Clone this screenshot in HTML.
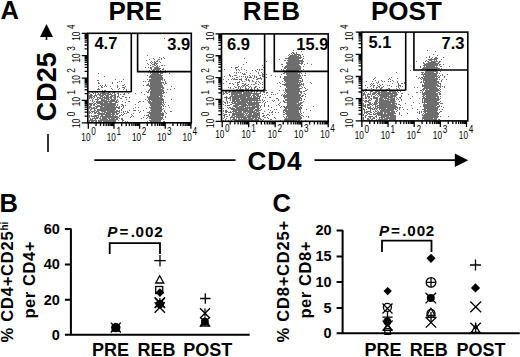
<!DOCTYPE html>
<html><head><meta charset="utf-8"><style>
html,body{margin:0;padding:0;background:#fff;overflow:hidden}
svg{display:block}
text{font-family:"Liberation Sans", sans-serif}
</style></head><body>
<svg width="520" height="357" viewBox="0 0 520 357" font-family='&quot;Liberation Sans&quot;, sans-serif'>
<rect width="520" height="357" fill="#fff"/>
<path fill="#6e6e6e" d="M164 38h1v1h-1zM147 55h1v1h-1zM159 57h1v1h-1zM163 57h1v1h-1zM153 58h1v1h-1zM161 58h1v1h-1zM164 58h1v1h-1zM149 59h1v1h-1zM154 59h1v1h-1zM158 59h2v1h-2zM161 59h1v1h-1zM146 60h1v1h-1zM157 60h1v1h-1zM151 61h1v1h-1zM154 61h1v1h-1zM156 61h2v1h-2zM159 61h1v1h-1zM150 62h1v1h-1zM152 62h1v1h-1zM154 62h2v1h-2zM160 62h1v1h-1zM147 63h1v1h-1zM151 63h1v1h-1zM154 63h4v1h-4zM148 64h1v1h-1zM152 64h3v1h-3zM156 64h1v1h-1zM150 65h1v1h-1zM154 65h2v1h-2zM157 65h1v1h-1zM161 65h2v1h-2zM164 65h1v1h-1zM152 66h2v1h-2zM156 66h2v1h-2zM159 66h1v1h-1zM145 67h1v1h-1zM148 67h1v1h-1zM150 67h2v1h-2zM154 67h5v1h-5zM150 68h2v1h-2zM154 68h7v1h-7zM163 68h1v1h-1zM151 69h1v1h-1zM153 69h7v1h-7zM162 69h2v1h-2zM149 70h1v1h-1zM152 70h3v1h-3zM156 70h3v1h-3zM160 70h1v1h-1zM165 70h1v1h-1zM151 71h10v1h-10zM163 71h2v1h-2zM148 72h1v1h-1zM150 72h14v1h-14zM165 72h1v1h-1zM98 73h1v1h-1zM150 73h1v1h-1zM152 73h7v1h-7zM160 73h3v1h-3zM169 73h1v1h-1zM151 74h10v1h-10zM147 75h1v1h-1zM150 75h13v1h-13zM104 76h1v1h-1zM149 76h13v1h-13zM149 77h14v1h-14zM151 78h12v1h-12zM115 79h1v1h-1zM123 79h1v1h-1zM147 79h1v1h-1zM149 79h14v1h-14zM164 79h1v1h-1zM97 80h2v1h-2zM149 80h12v1h-12zM162 80h1v1h-1zM164 80h1v1h-1zM119 81h1v1h-1zM121 81h1v1h-1zM143 81h1v1h-1zM145 81h1v1h-1zM148 81h13v1h-13zM165 81h1v1h-1zM98 82h1v1h-1zM112 82h1v1h-1zM117 82h1v1h-1zM150 82h14v1h-14zM165 82h1v1h-1zM98 83h2v1h-2zM112 83h1v1h-1zM148 83h1v1h-1zM150 83h12v1h-12zM163 83h1v1h-1zM165 83h2v1h-2zM105 84h1v1h-1zM124 84h1v1h-1zM147 84h2v1h-2zM150 84h12v1h-12zM164 84h1v1h-1zM100 85h1v1h-1zM102 85h1v1h-1zM105 85h1v1h-1zM117 85h1v1h-1zM122 85h2v1h-2zM143 85h1v1h-1zM146 85h17v1h-17zM98 86h1v1h-1zM101 86h1v1h-1zM104 86h1v1h-1zM106 86h1v1h-1zM110 86h1v1h-1zM117 86h1v1h-1zM125 86h1v1h-1zM149 86h14v1h-14zM171 86h1v1h-1zM101 87h2v1h-2zM117 87h1v1h-1zM122 87h3v1h-3zM150 87h14v1h-14zM98 88h1v1h-1zM111 88h1v1h-1zM119 88h1v1h-1zM124 88h1v1h-1zM150 88h11v1h-11zM162 88h2v1h-2zM174 88h1v1h-1zM97 89h3v1h-3zM112 89h1v1h-1zM118 89h1v1h-1zM123 89h1v1h-1zM126 89h1v1h-1zM149 89h14v1h-14zM167 89h1v1h-1zM170 89h1v1h-1zM102 90h1v1h-1zM104 90h2v1h-2zM126 90h1v1h-1zM148 90h2v1h-2zM151 90h13v1h-13zM90 91h1v1h-1zM94 91h1v1h-1zM98 91h1v1h-1zM100 91h1v1h-1zM104 91h2v1h-2zM109 91h1v1h-1zM117 91h1v1h-1zM127 91h1v1h-1zM131 91h1v1h-1zM146 91h1v1h-1zM148 91h1v1h-1zM150 91h14v1h-14zM92 92h1v1h-1zM95 92h1v1h-1zM97 92h1v1h-1zM102 92h3v1h-3zM108 92h2v1h-2zM113 92h2v1h-2zM141 92h1v1h-1zM147 92h2v1h-2zM150 92h12v1h-12zM163 92h2v1h-2zM166 92h1v1h-1zM89 93h1v1h-1zM93 93h1v1h-1zM95 93h1v1h-1zM98 93h1v1h-1zM100 93h9v1h-9zM110 93h1v1h-1zM112 93h1v1h-1zM114 93h1v1h-1zM117 93h2v1h-2zM124 93h1v1h-1zM128 93h1v1h-1zM135 93h1v1h-1zM150 93h14v1h-14zM90 94h2v1h-2zM95 94h1v1h-1zM97 94h4v1h-4zM102 94h4v1h-4zM107 94h5v1h-5zM114 94h2v1h-2zM118 94h1v1h-1zM120 94h1v1h-1zM123 94h2v1h-2zM144 94h1v1h-1zM150 94h12v1h-12zM89 95h4v1h-4zM94 95h3v1h-3zM99 95h5v1h-5zM105 95h4v1h-4zM111 95h5v1h-5zM118 95h1v1h-1zM150 95h13v1h-13zM89 96h3v1h-3zM93 96h2v1h-2zM96 96h1v1h-1zM100 96h3v1h-3zM104 96h1v1h-1zM106 96h3v1h-3zM110 96h3v1h-3zM114 96h2v1h-2zM117 96h2v1h-2zM122 96h2v1h-2zM147 96h1v1h-1zM149 96h10v1h-10zM160 96h3v1h-3zM164 96h1v1h-1zM89 97h4v1h-4zM94 97h1v1h-1zM97 97h4v1h-4zM102 97h10v1h-10zM113 97h3v1h-3zM117 97h1v1h-1zM119 97h1v1h-1zM125 97h2v1h-2zM129 97h1v1h-1zM147 97h15v1h-15zM89 98h1v1h-1zM91 98h1v1h-1zM93 98h1v1h-1zM97 98h1v1h-1zM99 98h4v1h-4zM104 98h5v1h-5zM110 98h2v1h-2zM114 98h2v1h-2zM120 98h2v1h-2zM148 98h15v1h-15zM92 99h1v1h-1zM95 99h4v1h-4zM101 99h4v1h-4zM106 99h4v1h-4zM111 99h5v1h-5zM117 99h1v1h-1zM126 99h1v1h-1zM145 99h1v1h-1zM148 99h16v1h-16zM171 99h1v1h-1zM90 100h1v1h-1zM92 100h1v1h-1zM97 100h1v1h-1zM101 100h6v1h-6zM108 100h1v1h-1zM110 100h5v1h-5zM116 100h2v1h-2zM147 100h1v1h-1zM149 100h1v1h-1zM151 100h13v1h-13zM92 101h1v1h-1zM94 101h1v1h-1zM96 101h21v1h-21zM118 101h1v1h-1zM122 101h1v1h-1zM128 101h2v1h-2zM139 101h2v1h-2zM143 101h1v1h-1zM148 101h3v1h-3zM152 101h10v1h-10zM163 101h1v1h-1zM93 102h1v1h-1zM96 102h7v1h-7zM104 102h4v1h-4zM109 102h3v1h-3zM115 102h3v1h-3zM125 102h1v1h-1zM138 102h1v1h-1zM148 102h16v1h-16zM165 102h1v1h-1zM89 103h4v1h-4zM94 103h2v1h-2zM97 103h19v1h-19zM149 103h13v1h-13zM163 103h1v1h-1zM89 104h3v1h-3zM93 104h2v1h-2zM96 104h1v1h-1zM100 104h16v1h-16zM117 104h1v1h-1zM121 104h2v1h-2zM135 104h1v1h-1zM150 104h13v1h-13zM164 104h1v1h-1zM90 105h2v1h-2zM93 105h2v1h-2zM97 105h3v1h-3zM101 105h15v1h-15zM117 105h1v1h-1zM122 105h2v1h-2zM125 105h1v1h-1zM150 105h11v1h-11zM162 105h2v1h-2zM168 105h1v1h-1zM89 106h2v1h-2zM95 106h8v1h-8zM104 106h11v1h-11zM116 106h1v1h-1zM119 106h1v1h-1zM121 106h1v1h-1zM123 106h1v1h-1zM151 106h11v1h-11zM163 106h1v1h-1zM165 106h1v1h-1zM89 107h3v1h-3zM93 107h2v1h-2zM96 107h2v1h-2zM100 107h20v1h-20zM123 107h1v1h-1zM135 107h1v1h-1zM138 107h1v1h-1zM149 107h13v1h-13zM169 107h1v1h-1zM89 108h1v1h-1zM91 108h6v1h-6zM100 108h16v1h-16zM118 108h2v1h-2zM122 108h1v1h-1zM133 108h1v1h-1zM146 108h1v1h-1zM150 108h12v1h-12zM163 108h1v1h-1zM90 109h2v1h-2zM94 109h1v1h-1zM97 109h19v1h-19zM121 109h1v1h-1zM151 109h12v1h-12zM90 110h1v1h-1zM94 110h2v1h-2zM97 110h18v1h-18zM116 110h2v1h-2zM119 110h1v1h-1zM121 110h1v1h-1zM129 110h1v1h-1zM133 110h3v1h-3zM138 110h1v1h-1zM143 110h1v1h-1zM150 110h12v1h-12zM164 110h1v1h-1zM89 111h1v1h-1zM91 111h4v1h-4zM96 111h3v1h-3zM101 111h5v1h-5zM107 111h13v1h-13zM123 111h1v1h-1zM125 111h1v1h-1zM127 111h1v1h-1zM140 111h1v1h-1zM149 111h1v1h-1zM151 111h11v1h-11zM164 111h1v1h-1zM170 111h2v1h-2zM89 112h2v1h-2zM92 112h1v1h-1zM94 112h3v1h-3zM98 112h2v1h-2zM102 112h1v1h-1zM104 112h13v1h-13zM119 112h1v1h-1zM121 112h1v1h-1zM123 112h1v1h-1zM127 112h2v1h-2zM139 112h1v1h-1zM147 112h14v1h-14zM162 112h1v1h-1zM165 112h1v1h-1zM89 113h1v1h-1zM91 113h1v1h-1zM94 113h2v1h-2zM97 113h8v1h-8zM106 113h5v1h-5zM112 113h3v1h-3zM116 113h3v1h-3zM124 113h1v1h-1zM126 113h1v1h-1zM133 113h1v1h-1zM149 113h15v1h-15zM166 113h1v1h-1zM98 114h17v1h-17zM116 114h2v1h-2zM121 114h1v1h-1zM123 114h1v1h-1zM131 114h1v1h-1zM148 114h1v1h-1zM150 114h14v1h-14zM89 115h1v1h-1zM91 115h1v1h-1zM94 115h5v1h-5zM101 115h2v1h-2zM105 115h6v1h-6zM112 115h2v1h-2zM115 115h1v1h-1zM119 115h2v1h-2zM122 115h1v1h-1zM132 115h1v1h-1zM144 115h1v1h-1zM146 115h3v1h-3zM150 115h14v1h-14zM89 116h1v1h-1zM91 116h6v1h-6zM98 116h1v1h-1zM100 116h18v1h-18zM119 116h1v1h-1zM131 116h1v1h-1zM133 116h1v1h-1zM148 116h13v1h-13zM162 116h1v1h-1zM165 116h1v1h-1zM89 117h1v1h-1zM94 117h1v1h-1zM96 117h3v1h-3zM100 117h1v1h-1zM102 117h17v1h-17zM130 117h1v1h-1zM143 117h1v1h-1zM147 117h1v1h-1zM149 117h14v1h-14zM165 117h1v1h-1zM90 118h1v1h-1zM92 118h6v1h-6zM99 118h2v1h-2zM102 118h5v1h-5zM108 118h2v1h-2zM111 118h4v1h-4zM116 118h2v1h-2zM119 118h1v1h-1zM121 118h2v1h-2zM141 118h1v1h-1zM146 118h1v1h-1zM149 118h14v1h-14zM90 119h3v1h-3zM95 119h1v1h-1zM100 119h8v1h-8zM109 119h9v1h-9zM121 119h2v1h-2zM151 119h11v1h-11zM163 119h1v1h-1zM89 120h8v1h-8zM98 120h18v1h-18zM118 120h1v1h-1zM122 120h2v1h-2zM149 120h12v1h-12zM89 121h1v1h-1zM91 121h3v1h-3zM95 121h2v1h-2zM98 121h4v1h-4zM103 121h13v1h-13zM122 121h1v1h-1zM125 121h1v1h-1zM127 121h1v1h-1zM147 121h1v1h-1zM150 121h11v1h-11zM163 121h2v1h-2z"/>
<path fill="#6e6e6e" d="M293 50h1v1h-1zM301 51h1v1h-1zM292 52h2v1h-2zM296 52h1v1h-1zM291 53h1v1h-1zM293 53h2v1h-2zM296 53h1v1h-1zM289 54h1v1h-1zM292 54h1v1h-1zM294 54h6v1h-6zM302 54h1v1h-1zM288 55h1v1h-1zM290 55h7v1h-7zM298 55h3v1h-3zM289 56h10v1h-10zM300 56h1v1h-1zM303 56h1v1h-1zM288 57h14v1h-14zM244 58h1v1h-1zM285 58h16v1h-16zM303 58h1v1h-1zM279 59h1v1h-1zM288 59h11v1h-11zM302 59h1v1h-1zM284 60h2v1h-2zM287 60h16v1h-16zM266 61h1v1h-1zM288 61h16v1h-16zM246 62h1v1h-1zM286 62h14v1h-14zM301 62h2v1h-2zM286 63h17v1h-17zM307 63h1v1h-1zM243 64h1v1h-1zM281 64h2v1h-2zM287 64h12v1h-12zM301 64h1v1h-1zM304 64h1v1h-1zM311 64h1v1h-1zM262 65h1v1h-1zM286 65h14v1h-14zM238 66h1v1h-1zM282 66h1v1h-1zM285 66h16v1h-16zM303 66h1v1h-1zM231 67h1v1h-1zM235 67h3v1h-3zM241 67h1v1h-1zM263 67h1v1h-1zM284 67h17v1h-17zM235 68h1v1h-1zM284 68h2v1h-2zM287 68h14v1h-14zM224 69h1v1h-1zM236 69h1v1h-1zM238 69h1v1h-1zM241 69h1v1h-1zM244 69h1v1h-1zM257 69h1v1h-1zM259 69h1v1h-1zM261 69h2v1h-2zM281 69h1v1h-1zM283 69h1v1h-1zM286 69h15v1h-15zM303 69h1v1h-1zM236 70h1v1h-1zM239 70h1v1h-1zM246 70h1v1h-1zM252 70h1v1h-1zM255 70h1v1h-1zM259 70h1v1h-1zM283 70h2v1h-2zM286 70h13v1h-13zM301 70h1v1h-1zM256 71h1v1h-1zM280 71h1v1h-1zM283 71h1v1h-1zM285 71h14v1h-14zM300 71h1v1h-1zM307 71h1v1h-1zM234 72h1v1h-1zM236 72h1v1h-1zM238 72h1v1h-1zM240 72h1v1h-1zM246 72h1v1h-1zM258 72h1v1h-1zM261 72h1v1h-1zM284 72h17v1h-17zM236 73h1v1h-1zM242 73h1v1h-1zM244 73h1v1h-1zM250 73h1v1h-1zM258 73h1v1h-1zM262 73h1v1h-1zM283 73h2v1h-2zM286 73h12v1h-12zM299 73h1v1h-1zM301 73h1v1h-1zM305 73h1v1h-1zM229 74h1v1h-1zM243 74h3v1h-3zM262 74h2v1h-2zM266 74h1v1h-1zM281 74h1v1h-1zM286 74h14v1h-14zM229 75h2v1h-2zM234 75h3v1h-3zM249 75h1v1h-1zM252 75h1v1h-1zM254 75h1v1h-1zM259 75h2v1h-2zM262 75h1v1h-1zM271 75h1v1h-1zM287 75h14v1h-14zM302 75h1v1h-1zM304 75h2v1h-2zM224 76h1v1h-1zM230 76h1v1h-1zM232 76h1v1h-1zM239 76h1v1h-1zM241 76h1v1h-1zM243 76h1v1h-1zM245 76h1v1h-1zM247 76h1v1h-1zM250 76h1v1h-1zM254 76h1v1h-1zM256 76h1v1h-1zM262 76h3v1h-3zM275 76h1v1h-1zM280 76h1v1h-1zM284 76h17v1h-17zM236 77h2v1h-2zM245 77h1v1h-1zM247 77h1v1h-1zM249 77h3v1h-3zM254 77h1v1h-1zM256 77h1v1h-1zM260 77h1v1h-1zM266 77h1v1h-1zM280 77h1v1h-1zM284 77h16v1h-16zM301 77h1v1h-1zM232 78h1v1h-1zM234 78h1v1h-1zM241 78h1v1h-1zM246 78h1v1h-1zM253 78h1v1h-1zM257 78h5v1h-5zM264 78h1v1h-1zM283 78h19v1h-19zM223 79h1v1h-1zM228 79h1v1h-1zM231 79h1v1h-1zM233 79h5v1h-5zM239 79h3v1h-3zM245 79h2v1h-2zM248 79h1v1h-1zM256 79h2v1h-2zM261 79h1v1h-1zM284 79h15v1h-15zM302 79h1v1h-1zM241 80h1v1h-1zM246 80h1v1h-1zM248 80h2v1h-2zM252 80h1v1h-1zM284 80h17v1h-17zM302 80h1v1h-1zM226 81h1v1h-1zM239 81h1v1h-1zM242 81h1v1h-1zM244 81h1v1h-1zM249 81h1v1h-1zM252 81h2v1h-2zM256 81h1v1h-1zM258 81h1v1h-1zM264 81h1v1h-1zM282 81h1v1h-1zM285 81h14v1h-14zM300 81h3v1h-3zM235 82h1v1h-1zM237 82h3v1h-3zM255 82h1v1h-1zM259 82h1v1h-1zM262 82h1v1h-1zM264 82h1v1h-1zM279 82h1v1h-1zM284 82h1v1h-1zM286 82h15v1h-15zM310 82h1v1h-1zM223 83h1v1h-1zM229 83h2v1h-2zM232 83h1v1h-1zM237 83h1v1h-1zM242 83h2v1h-2zM245 83h1v1h-1zM255 83h2v1h-2zM260 83h1v1h-1zM277 83h1v1h-1zM280 83h1v1h-1zM285 83h13v1h-13zM299 83h1v1h-1zM301 83h1v1h-1zM303 83h1v1h-1zM311 83h1v1h-1zM233 84h1v1h-1zM237 84h2v1h-2zM244 84h2v1h-2zM248 84h1v1h-1zM251 84h1v1h-1zM253 84h2v1h-2zM258 84h1v1h-1zM262 84h1v1h-1zM282 84h22v1h-22zM237 85h1v1h-1zM242 85h3v1h-3zM246 85h2v1h-2zM284 85h17v1h-17zM303 85h1v1h-1zM234 86h1v1h-1zM238 86h2v1h-2zM241 86h1v1h-1zM243 86h1v1h-1zM245 86h1v1h-1zM248 86h1v1h-1zM250 86h1v1h-1zM255 86h2v1h-2zM280 86h1v1h-1zM286 86h14v1h-14zM301 86h1v1h-1zM228 87h1v1h-1zM230 87h1v1h-1zM235 87h2v1h-2zM238 87h1v1h-1zM240 87h1v1h-1zM242 87h1v1h-1zM245 87h1v1h-1zM249 87h1v1h-1zM251 87h1v1h-1zM254 87h2v1h-2zM259 87h1v1h-1zM262 87h1v1h-1zM264 87h1v1h-1zM286 87h13v1h-13zM302 87h1v1h-1zM304 87h1v1h-1zM230 88h1v1h-1zM233 88h1v1h-1zM238 88h1v1h-1zM240 88h1v1h-1zM245 88h2v1h-2zM248 88h1v1h-1zM251 88h1v1h-1zM254 88h1v1h-1zM257 88h1v1h-1zM285 88h1v1h-1zM287 88h15v1h-15zM305 88h1v1h-1zM236 89h2v1h-2zM239 89h5v1h-5zM245 89h4v1h-4zM250 89h3v1h-3zM254 89h1v1h-1zM257 89h2v1h-2zM263 89h1v1h-1zM285 89h15v1h-15zM307 89h1v1h-1zM229 90h2v1h-2zM232 90h4v1h-4zM237 90h6v1h-6zM244 90h1v1h-1zM246 90h4v1h-4zM253 90h1v1h-1zM256 90h3v1h-3zM260 90h2v1h-2zM265 90h2v1h-2zM279 90h1v1h-1zM283 90h1v1h-1zM285 90h15v1h-15zM305 90h2v1h-2zM225 91h2v1h-2zM229 91h2v1h-2zM232 91h4v1h-4zM237 91h7v1h-7zM246 91h1v1h-1zM248 91h1v1h-1zM251 91h2v1h-2zM254 91h1v1h-1zM256 91h2v1h-2zM260 91h2v1h-2zM263 91h2v1h-2zM285 91h17v1h-17zM303 91h2v1h-2zM223 92h1v1h-1zM225 92h2v1h-2zM228 92h2v1h-2zM231 92h11v1h-11zM243 92h9v1h-9zM254 92h1v1h-1zM256 92h1v1h-1zM260 92h1v1h-1zM263 92h2v1h-2zM266 92h2v1h-2zM271 92h2v1h-2zM284 92h1v1h-1zM286 92h13v1h-13zM300 92h2v1h-2zM223 93h2v1h-2zM226 93h2v1h-2zM231 93h11v1h-11zM243 93h18v1h-18zM266 93h1v1h-1zM277 93h1v1h-1zM285 93h1v1h-1zM287 93h12v1h-12zM301 93h1v1h-1zM304 93h1v1h-1zM223 94h1v1h-1zM229 94h1v1h-1zM231 94h7v1h-7zM239 94h12v1h-12zM253 94h6v1h-6zM262 94h1v1h-1zM264 94h1v1h-1zM271 94h1v1h-1zM273 94h1v1h-1zM275 94h1v1h-1zM282 94h1v1h-1zM284 94h1v1h-1zM286 94h15v1h-15zM305 94h1v1h-1zM231 95h2v1h-2zM234 95h17v1h-17zM252 95h3v1h-3zM256 95h3v1h-3zM260 95h1v1h-1zM267 95h1v1h-1zM281 95h1v1h-1zM283 95h18v1h-18zM302 95h2v1h-2zM226 96h1v1h-1zM230 96h20v1h-20zM251 96h1v1h-1zM253 96h3v1h-3zM257 96h4v1h-4zM283 96h17v1h-17zM301 96h2v1h-2zM305 96h1v1h-1zM224 97h4v1h-4zM229 97h2v1h-2zM232 97h14v1h-14zM247 97h5v1h-5zM253 97h5v1h-5zM259 97h1v1h-1zM263 97h1v1h-1zM265 97h1v1h-1zM269 97h2v1h-2zM284 97h17v1h-17zM226 98h1v1h-1zM228 98h3v1h-3zM232 98h7v1h-7zM240 98h20v1h-20zM276 98h2v1h-2zM284 98h1v1h-1zM287 98h15v1h-15zM226 99h1v1h-1zM230 99h1v1h-1zM232 99h26v1h-26zM259 99h1v1h-1zM262 99h1v1h-1zM278 99h1v1h-1zM285 99h15v1h-15zM301 99h1v1h-1zM304 99h1v1h-1zM226 100h1v1h-1zM230 100h1v1h-1zM232 100h3v1h-3zM236 100h4v1h-4zM241 100h20v1h-20zM262 100h1v1h-1zM264 100h1v1h-1zM272 100h1v1h-1zM274 100h1v1h-1zM278 100h1v1h-1zM283 100h1v1h-1zM285 100h17v1h-17zM223 101h1v1h-1zM227 101h1v1h-1zM232 101h16v1h-16zM249 101h3v1h-3zM254 101h1v1h-1zM256 101h2v1h-2zM263 101h1v1h-1zM267 101h1v1h-1zM273 101h1v1h-1zM283 101h2v1h-2zM287 101h12v1h-12zM303 101h1v1h-1zM224 102h2v1h-2zM227 102h1v1h-1zM229 102h1v1h-1zM231 102h2v1h-2zM234 102h2v1h-2zM237 102h24v1h-24zM262 102h1v1h-1zM265 102h1v1h-1zM280 102h1v1h-1zM284 102h15v1h-15zM300 102h3v1h-3zM225 103h1v1h-1zM227 103h1v1h-1zM232 103h14v1h-14zM247 103h12v1h-12zM264 103h1v1h-1zM279 103h1v1h-1zM287 103h10v1h-10zM298 103h4v1h-4zM223 104h1v1h-1zM230 104h2v1h-2zM235 104h12v1h-12zM248 104h11v1h-11zM264 104h1v1h-1zM278 104h1v1h-1zM287 104h14v1h-14zM225 105h1v1h-1zM227 105h3v1h-3zM233 105h6v1h-6zM241 105h14v1h-14zM256 105h4v1h-4zM261 105h1v1h-1zM264 105h1v1h-1zM268 105h1v1h-1zM276 105h1v1h-1zM279 105h1v1h-1zM287 105h13v1h-13zM301 105h2v1h-2zM233 106h5v1h-5zM239 106h7v1h-7zM247 106h1v1h-1zM249 106h1v1h-1zM252 106h7v1h-7zM260 106h1v1h-1zM264 106h1v1h-1zM268 106h1v1h-1zM281 106h1v1h-1zM283 106h2v1h-2zM286 106h13v1h-13zM300 106h1v1h-1zM313 106h1v1h-1zM227 107h1v1h-1zM229 107h2v1h-2zM232 107h1v1h-1zM235 107h9v1h-9zM245 107h14v1h-14zM260 107h1v1h-1zM271 107h1v1h-1zM280 107h1v1h-1zM284 107h18v1h-18zM223 108h1v1h-1zM228 108h1v1h-1zM230 108h5v1h-5zM236 108h19v1h-19zM257 108h3v1h-3zM285 108h17v1h-17zM231 109h17v1h-17zM249 109h5v1h-5zM255 109h4v1h-4zM261 109h1v1h-1zM268 109h1v1h-1zM274 109h1v1h-1zM276 109h1v1h-1zM284 109h3v1h-3zM288 109h13v1h-13zM306 109h1v1h-1zM223 110h1v1h-1zM225 110h2v1h-2zM233 110h20v1h-20zM254 110h7v1h-7zM270 110h1v1h-1zM283 110h16v1h-16zM300 110h1v1h-1zM310 110h1v1h-1zM223 111h1v1h-1zM225 111h3v1h-3zM230 111h1v1h-1zM232 111h5v1h-5zM238 111h4v1h-4zM243 111h12v1h-12zM256 111h3v1h-3zM264 111h1v1h-1zM272 111h1v1h-1zM283 111h1v1h-1zM285 111h14v1h-14zM300 111h1v1h-1zM225 112h2v1h-2zM228 112h4v1h-4zM233 112h1v1h-1zM235 112h7v1h-7zM243 112h3v1h-3zM247 112h10v1h-10zM258 112h2v1h-2zM269 112h1v1h-1zM271 112h2v1h-2zM275 112h1v1h-1zM278 112h1v1h-1zM283 112h2v1h-2zM286 112h13v1h-13zM300 112h1v1h-1zM303 112h1v1h-1zM223 113h1v1h-1zM232 113h12v1h-12zM245 113h3v1h-3zM249 113h3v1h-3zM253 113h7v1h-7zM262 113h2v1h-2zM285 113h15v1h-15zM301 113h1v1h-1zM224 114h3v1h-3zM229 114h1v1h-1zM232 114h13v1h-13zM246 114h1v1h-1zM248 114h4v1h-4zM253 114h7v1h-7zM267 114h2v1h-2zM272 114h1v1h-1zM283 114h2v1h-2zM286 114h15v1h-15zM223 115h2v1h-2zM229 115h1v1h-1zM232 115h3v1h-3zM236 115h8v1h-8zM245 115h15v1h-15zM263 115h2v1h-2zM266 115h1v1h-1zM269 115h1v1h-1zM287 115h13v1h-13zM301 115h2v1h-2zM224 116h1v1h-1zM226 116h2v1h-2zM231 116h2v1h-2zM234 116h12v1h-12zM247 116h11v1h-11zM259 116h1v1h-1zM262 116h2v1h-2zM283 116h1v1h-1zM286 116h15v1h-15zM303 116h1v1h-1zM306 116h1v1h-1zM308 116h1v1h-1zM224 117h1v1h-1zM230 117h5v1h-5zM236 117h15v1h-15zM252 117h8v1h-8zM264 117h2v1h-2zM267 117h1v1h-1zM274 117h1v1h-1zM284 117h1v1h-1zM286 117h1v1h-1zM288 117h14v1h-14zM308 117h1v1h-1zM223 118h1v1h-1zM226 118h1v1h-1zM230 118h1v1h-1zM233 118h2v1h-2zM236 118h1v1h-1zM238 118h2v1h-2zM241 118h1v1h-1zM243 118h4v1h-4zM248 118h6v1h-6zM255 118h2v1h-2zM258 118h3v1h-3zM268 118h1v1h-1zM275 118h1v1h-1zM285 118h17v1h-17zM225 119h1v1h-1zM230 119h1v1h-1zM232 119h5v1h-5zM238 119h15v1h-15zM254 119h5v1h-5zM260 119h2v1h-2zM263 119h1v1h-1zM270 119h2v1h-2zM284 119h17v1h-17zM223 120h1v1h-1zM225 120h1v1h-1zM228 120h1v1h-1zM231 120h1v1h-1zM234 120h25v1h-25zM262 120h1v1h-1zM280 120h1v1h-1zM284 120h13v1h-13zM298 120h2v1h-2zM301 120h1v1h-1zM305 120h1v1h-1z"/>
<path fill="#6e6e6e" d="M427 50h1v1h-1zM435 51h1v1h-1zM433 54h1v1h-1zM437 55h1v1h-1zM429 56h1v1h-1zM426 57h1v1h-1zM429 57h1v1h-1zM432 57h1v1h-1zM435 57h2v1h-2zM443 57h1v1h-1zM431 58h1v1h-1zM434 58h4v1h-4zM428 59h9v1h-9zM441 59h1v1h-1zM426 60h1v1h-1zM429 60h3v1h-3zM434 60h1v1h-1zM436 60h1v1h-1zM416 61h1v1h-1zM425 61h1v1h-1zM427 61h2v1h-2zM431 61h7v1h-7zM439 61h2v1h-2zM423 62h1v1h-1zM428 62h8v1h-8zM438 62h2v1h-2zM423 63h2v1h-2zM426 63h13v1h-13zM424 64h14v1h-14zM439 64h2v1h-2zM443 64h1v1h-1zM423 65h15v1h-15zM439 65h1v1h-1zM420 66h1v1h-1zM424 66h1v1h-1zM426 66h9v1h-9zM436 66h1v1h-1zM440 66h2v1h-2zM449 66h1v1h-1zM420 67h1v1h-1zM423 67h15v1h-15zM422 68h18v1h-18zM441 68h1v1h-1zM421 69h1v1h-1zM423 69h1v1h-1zM425 69h12v1h-12zM410 70h1v1h-1zM422 70h1v1h-1zM426 70h11v1h-11zM438 70h2v1h-2zM425 71h13v1h-13zM440 71h1v1h-1zM396 72h1v1h-1zM421 72h3v1h-3zM425 72h9v1h-9zM436 72h2v1h-2zM422 73h1v1h-1zM424 73h14v1h-14zM439 73h1v1h-1zM421 74h16v1h-16zM442 74h1v1h-1zM447 74h1v1h-1zM423 75h1v1h-1zM425 75h12v1h-12zM438 75h1v1h-1zM440 75h1v1h-1zM442 75h1v1h-1zM416 76h1v1h-1zM423 76h15v1h-15zM439 76h1v1h-1zM444 76h1v1h-1zM375 77h1v1h-1zM391 77h1v1h-1zM419 77h1v1h-1zM421 77h2v1h-2zM424 77h11v1h-11zM436 77h1v1h-1zM438 77h2v1h-2zM444 77h1v1h-1zM374 78h1v1h-1zM389 78h1v1h-1zM397 78h1v1h-1zM418 78h1v1h-1zM420 78h1v1h-1zM422 78h16v1h-16zM373 79h1v1h-1zM388 79h1v1h-1zM390 79h1v1h-1zM421 79h1v1h-1zM423 79h15v1h-15zM439 79h1v1h-1zM442 79h1v1h-1zM446 79h1v1h-1zM375 80h1v1h-1zM381 80h1v1h-1zM392 80h1v1h-1zM423 80h14v1h-14zM441 80h1v1h-1zM366 81h1v1h-1zM372 81h1v1h-1zM378 81h1v1h-1zM382 81h1v1h-1zM384 81h1v1h-1zM388 81h1v1h-1zM390 81h1v1h-1zM393 81h1v1h-1zM397 81h1v1h-1zM421 81h1v1h-1zM423 81h1v1h-1zM425 81h14v1h-14zM441 81h1v1h-1zM376 82h1v1h-1zM378 82h1v1h-1zM397 82h1v1h-1zM404 82h1v1h-1zM420 82h2v1h-2zM423 82h16v1h-16zM371 83h1v1h-1zM373 83h1v1h-1zM377 83h1v1h-1zM392 83h1v1h-1zM398 83h1v1h-1zM401 83h2v1h-2zM404 83h2v1h-2zM424 83h13v1h-13zM438 83h3v1h-3zM370 84h1v1h-1zM372 84h1v1h-1zM379 84h1v1h-1zM382 84h1v1h-1zM398 84h1v1h-1zM405 84h1v1h-1zM422 84h1v1h-1zM424 84h14v1h-14zM440 84h1v1h-1zM365 85h1v1h-1zM371 85h1v1h-1zM373 85h2v1h-2zM377 85h1v1h-1zM380 85h1v1h-1zM387 85h1v1h-1zM389 85h1v1h-1zM398 85h3v1h-3zM422 85h17v1h-17zM440 85h1v1h-1zM370 86h1v1h-1zM373 86h1v1h-1zM378 86h2v1h-2zM383 86h1v1h-1zM391 86h1v1h-1zM396 86h1v1h-1zM398 86h1v1h-1zM400 86h1v1h-1zM402 86h1v1h-1zM422 86h14v1h-14zM437 86h4v1h-4zM442 86h1v1h-1zM444 86h1v1h-1zM367 87h1v1h-1zM373 87h1v1h-1zM376 87h2v1h-2zM379 87h1v1h-1zM381 87h2v1h-2zM398 87h1v1h-1zM414 87h1v1h-1zM417 87h1v1h-1zM424 87h13v1h-13zM440 87h1v1h-1zM444 87h1v1h-1zM371 88h1v1h-1zM376 88h1v1h-1zM380 88h2v1h-2zM388 88h2v1h-2zM396 88h1v1h-1zM399 88h1v1h-1zM423 88h15v1h-15zM439 88h1v1h-1zM365 89h2v1h-2zM373 89h1v1h-1zM380 89h1v1h-1zM386 89h2v1h-2zM389 89h1v1h-1zM397 89h1v1h-1zM422 89h3v1h-3zM426 89h2v1h-2zM429 89h10v1h-10zM440 89h1v1h-1zM363 90h1v1h-1zM365 90h1v1h-1zM373 90h1v1h-1zM375 90h1v1h-1zM377 90h17v1h-17zM395 90h1v1h-1zM399 90h1v1h-1zM420 90h2v1h-2zM423 90h1v1h-1zM425 90h15v1h-15zM363 91h1v1h-1zM365 91h1v1h-1zM370 91h3v1h-3zM375 91h5v1h-5zM381 91h6v1h-6zM389 91h7v1h-7zM397 91h1v1h-1zM400 91h1v1h-1zM422 91h1v1h-1zM425 91h13v1h-13zM440 91h1v1h-1zM364 92h1v1h-1zM366 92h1v1h-1zM370 92h1v1h-1zM373 92h4v1h-4zM378 92h13v1h-13zM392 92h5v1h-5zM398 92h1v1h-1zM416 92h2v1h-2zM420 92h1v1h-1zM422 92h1v1h-1zM424 92h12v1h-12zM438 92h2v1h-2zM363 93h2v1h-2zM368 93h1v1h-1zM370 93h1v1h-1zM372 93h4v1h-4zM377 93h3v1h-3zM381 93h16v1h-16zM401 93h2v1h-2zM422 93h16v1h-16zM439 93h2v1h-2zM363 94h3v1h-3zM367 94h4v1h-4zM372 94h3v1h-3zM376 94h1v1h-1zM378 94h15v1h-15zM394 94h4v1h-4zM408 94h1v1h-1zM422 94h16v1h-16zM439 94h2v1h-2zM363 95h1v1h-1zM365 95h1v1h-1zM367 95h1v1h-1zM371 95h1v1h-1zM375 95h1v1h-1zM377 95h1v1h-1zM379 95h10v1h-10zM390 95h7v1h-7zM401 95h1v1h-1zM423 95h2v1h-2zM426 95h12v1h-12zM365 96h1v1h-1zM367 96h3v1h-3zM371 96h1v1h-1zM373 96h2v1h-2zM378 96h1v1h-1zM380 96h16v1h-16zM401 96h1v1h-1zM412 96h1v1h-1zM422 96h2v1h-2zM425 96h14v1h-14zM440 96h1v1h-1zM365 97h2v1h-2zM368 97h2v1h-2zM373 97h5v1h-5zM380 97h7v1h-7zM388 97h5v1h-5zM394 97h1v1h-1zM396 97h1v1h-1zM399 97h2v1h-2zM423 97h2v1h-2zM426 97h10v1h-10zM437 97h2v1h-2zM363 98h1v1h-1zM365 98h2v1h-2zM368 98h1v1h-1zM370 98h2v1h-2zM373 98h5v1h-5zM379 98h4v1h-4zM384 98h5v1h-5zM390 98h5v1h-5zM397 98h1v1h-1zM400 98h1v1h-1zM410 98h1v1h-1zM419 98h1v1h-1zM422 98h17v1h-17zM440 98h1v1h-1zM369 99h1v1h-1zM371 99h1v1h-1zM376 99h2v1h-2zM379 99h5v1h-5zM385 99h1v1h-1zM387 99h8v1h-8zM396 99h1v1h-1zM398 99h1v1h-1zM401 99h1v1h-1zM422 99h1v1h-1zM424 99h16v1h-16zM363 100h1v1h-1zM365 100h2v1h-2zM368 100h3v1h-3zM375 100h3v1h-3zM379 100h10v1h-10zM390 100h5v1h-5zM401 100h1v1h-1zM422 100h1v1h-1zM424 100h15v1h-15zM364 101h5v1h-5zM375 101h3v1h-3zM379 101h17v1h-17zM399 101h1v1h-1zM422 101h1v1h-1zM424 101h13v1h-13zM440 101h1v1h-1zM365 102h1v1h-1zM368 102h3v1h-3zM374 102h3v1h-3zM378 102h17v1h-17zM413 102h1v1h-1zM422 102h18v1h-18zM363 103h1v1h-1zM369 103h2v1h-2zM372 103h1v1h-1zM374 103h4v1h-4zM379 103h12v1h-12zM392 103h5v1h-5zM405 103h1v1h-1zM419 103h1v1h-1zM424 103h1v1h-1zM427 103h12v1h-12zM440 103h3v1h-3zM363 104h1v1h-1zM365 104h1v1h-1zM367 104h5v1h-5zM373 104h4v1h-4zM379 104h16v1h-16zM396 104h1v1h-1zM398 104h2v1h-2zM423 104h16v1h-16zM363 105h3v1h-3zM367 105h3v1h-3zM372 105h1v1h-1zM375 105h1v1h-1zM377 105h19v1h-19zM400 105h1v1h-1zM411 105h1v1h-1zM423 105h14v1h-14zM439 105h1v1h-1zM363 106h3v1h-3zM367 106h1v1h-1zM370 106h1v1h-1zM375 106h3v1h-3zM379 106h18v1h-18zM420 106h1v1h-1zM423 106h13v1h-13zM437 106h3v1h-3zM441 106h1v1h-1zM365 107h1v1h-1zM367 107h4v1h-4zM373 107h1v1h-1zM375 107h1v1h-1zM377 107h21v1h-21zM399 107h2v1h-2zM402 107h1v1h-1zM424 107h15v1h-15zM443 107h1v1h-1zM363 108h1v1h-1zM368 108h5v1h-5zM374 108h4v1h-4zM379 108h7v1h-7zM387 108h9v1h-9zM397 108h1v1h-1zM399 108h1v1h-1zM412 108h1v1h-1zM424 108h14v1h-14zM363 109h2v1h-2zM366 109h1v1h-1zM370 109h1v1h-1zM372 109h3v1h-3zM376 109h1v1h-1zM379 109h1v1h-1zM381 109h13v1h-13zM395 109h2v1h-2zM399 109h1v1h-1zM403 109h1v1h-1zM407 109h1v1h-1zM417 109h1v1h-1zM422 109h4v1h-4zM427 109h11v1h-11zM439 109h1v1h-1zM442 109h1v1h-1zM364 110h1v1h-1zM370 110h1v1h-1zM375 110h1v1h-1zM377 110h1v1h-1zM380 110h14v1h-14zM397 110h1v1h-1zM424 110h14v1h-14zM364 111h1v1h-1zM366 111h5v1h-5zM373 111h1v1h-1zM375 111h2v1h-2zM378 111h1v1h-1zM380 111h10v1h-10zM391 111h4v1h-4zM396 111h1v1h-1zM419 111h1v1h-1zM421 111h1v1h-1zM423 111h14v1h-14zM440 111h2v1h-2zM364 112h4v1h-4zM370 112h2v1h-2zM374 112h1v1h-1zM377 112h6v1h-6zM384 112h11v1h-11zM399 112h1v1h-1zM417 112h1v1h-1zM419 112h1v1h-1zM421 112h1v1h-1zM424 112h2v1h-2zM427 112h11v1h-11zM439 112h1v1h-1zM364 113h1v1h-1zM366 113h1v1h-1zM368 113h2v1h-2zM373 113h1v1h-1zM375 113h8v1h-8zM384 113h2v1h-2zM387 113h9v1h-9zM399 113h1v1h-1zM407 113h1v1h-1zM419 113h1v1h-1zM423 113h1v1h-1zM425 113h14v1h-14zM363 114h1v1h-1zM367 114h1v1h-1zM369 114h3v1h-3zM373 114h3v1h-3zM377 114h17v1h-17zM399 114h1v1h-1zM422 114h1v1h-1zM424 114h15v1h-15zM363 115h1v1h-1zM365 115h2v1h-2zM376 115h1v1h-1zM378 115h18v1h-18zM401 115h1v1h-1zM422 115h16v1h-16zM365 116h1v1h-1zM368 116h5v1h-5zM375 116h2v1h-2zM381 116h8v1h-8zM390 116h6v1h-6zM423 116h16v1h-16zM440 116h1v1h-1zM448 116h1v1h-1zM363 117h1v1h-1zM365 117h1v1h-1zM369 117h2v1h-2zM373 117h2v1h-2zM376 117h1v1h-1zM379 117h6v1h-6zM386 117h10v1h-10zM422 117h16v1h-16zM363 118h1v1h-1zM367 118h2v1h-2zM370 118h1v1h-1zM372 118h3v1h-3zM379 118h1v1h-1zM381 118h2v1h-2zM384 118h12v1h-12zM417 118h1v1h-1zM422 118h11v1h-11zM434 118h3v1h-3zM363 119h1v1h-1zM367 119h3v1h-3zM371 119h2v1h-2zM376 119h1v1h-1zM378 119h10v1h-10zM389 119h7v1h-7zM418 119h1v1h-1zM422 119h1v1h-1zM424 119h13v1h-13zM438 119h2v1h-2z"/>
<g fill="none" stroke="#000" stroke-width="1.60">
<rect x="87.80" y="33.30" width="103.50" height="89.50"/>
<path d="M87.80 91.80V91.80H131.30"/>
<path d="M131.30 33.30V91.80"/>
<path d="M137.60 33.30V71.60H191.30"/>
</g>
<path fill="none" stroke="#000" stroke-width="1.3" d="M88.30 122.80v6.00M87.80 122.80h-6.00M96.02 122.80v3.20M87.80 116.06h-3.20M100.54 122.80v3.20M87.80 112.12h-3.20M103.74 122.80v3.20M87.80 109.33h-3.20M106.23 122.80v3.20M87.80 107.16h-3.20M108.26 122.80v3.20M87.80 105.39h-3.20M109.98 122.80v3.20M87.80 103.89h-3.20M111.46 122.80v3.20M87.80 102.59h-3.20M112.78 122.80v3.20M87.80 101.45h-3.20M113.95 122.80v6.00M87.80 100.42h-6.00M121.67 122.80v3.20M87.80 93.69h-3.20M126.19 122.80v3.20M87.80 89.75h-3.20M129.39 122.80v3.20M87.80 86.95h-3.20M131.88 122.80v3.20M87.80 84.79h-3.20M133.91 122.80v3.20M87.80 83.01h-3.20M135.63 122.80v3.20M87.80 81.52h-3.20M137.11 122.80v3.20M87.80 80.22h-3.20M138.43 122.80v3.20M87.80 79.07h-3.20M139.60 122.80v6.00M87.80 78.05h-6.00M147.32 122.80v3.20M87.80 71.31h-3.20M151.84 122.80v3.20M87.80 67.37h-3.20M155.04 122.80v3.20M87.80 64.58h-3.20M157.53 122.80v3.20M87.80 62.41h-3.20M159.56 122.80v3.20M87.80 60.64h-3.20M161.28 122.80v3.20M87.80 59.14h-3.20M162.76 122.80v3.20M87.80 57.84h-3.20M164.08 122.80v3.20M87.80 56.70h-3.20M165.25 122.80v6.00M87.80 55.67h-6.00M172.97 122.80v3.20M87.80 48.94h-3.20M177.49 122.80v3.20M87.80 45.00h-3.20M180.69 122.80v3.20M87.80 42.20h-3.20M183.18 122.80v3.20M87.80 40.04h-3.20M185.21 122.80v3.20M87.80 38.26h-3.20M186.93 122.80v3.20M87.80 36.77h-3.20M188.41 122.80v3.20M87.80 35.47h-3.20M189.73 122.80v3.20M87.80 34.32h-3.20M190.90 122.80v6M87.80 33.30h-6"/>
<text transform="translate(81.37,141.30) scale(0.7,1)" font-size="11.8">10</text>
<text transform="translate(91.20,135.30) scale(0.7,1)" font-size="11.8">0</text>
<text transform="translate(106.67,141.30) scale(0.7,1)" font-size="11.8">10</text>
<text transform="translate(116.50,135.30) scale(0.7,1)" font-size="11.8">1</text>
<text transform="translate(131.97,141.30) scale(0.7,1)" font-size="11.8">10</text>
<text transform="translate(141.80,135.30) scale(0.7,1)" font-size="11.8">2</text>
<text transform="translate(157.27,141.30) scale(0.7,1)" font-size="11.8">10</text>
<text transform="translate(167.10,135.30) scale(0.7,1)" font-size="11.8">3</text>
<text transform="translate(182.57,141.30) scale(0.7,1)" font-size="11.8">10</text>
<text transform="translate(192.40,135.30) scale(0.7,1)" font-size="11.8">4</text>
<text transform="translate(79.90,127.95) rotate(-90) scale(0.7,1)" font-size="11.8">10</text>
<text transform="translate(75.10,116.25) rotate(-90) scale(0.7,1)" font-size="11.8">0</text>
<text transform="translate(79.90,106.15) rotate(-90) scale(0.7,1)" font-size="11.8">10</text>
<text transform="translate(75.10,94.45) rotate(-90) scale(0.7,1)" font-size="11.8">1</text>
<text transform="translate(79.90,84.35) rotate(-90) scale(0.7,1)" font-size="11.8">10</text>
<text transform="translate(75.10,72.65) rotate(-90) scale(0.7,1)" font-size="11.8">2</text>
<text transform="translate(79.90,62.55) rotate(-90) scale(0.7,1)" font-size="11.8">10</text>
<text transform="translate(75.10,50.85) rotate(-90) scale(0.7,1)" font-size="11.8">3</text>
<text transform="translate(79.90,40.75) rotate(-90) scale(0.7,1)" font-size="11.8">10</text>
<text transform="translate(75.10,29.05) rotate(-90) scale(0.7,1)" font-size="11.8">4</text>
<text x="94.40" y="49.40" font-size="16.5" font-weight="bold">4.7</text>
<text x="190.20" y="50.00" font-size="16.5" font-weight="bold" text-anchor="end">3.9</text>
<g fill="none" stroke="#000" stroke-width="1.60">
<rect x="221.50" y="33.90" width="106.70" height="87.40"/>
<path d="M221.50 90.60V90.60H264.60"/>
<path d="M264.60 33.90V90.60"/>
<path d="M274.30 33.90V71.40H328.20"/>
</g>
<path fill="none" stroke="#000" stroke-width="1.3" d="M222.20 121.30v6.00M221.50 121.30h-6.00M230.18 121.30v3.20M221.50 114.72h-3.20M234.84 121.30v3.20M221.50 110.87h-3.20M238.15 121.30v3.20M221.50 108.14h-3.20M240.72 121.30v3.20M221.50 106.03h-3.20M242.82 121.30v3.20M221.50 104.30h-3.20M244.60 121.30v3.20M221.50 102.83h-3.20M246.13 121.30v3.20M221.50 101.57h-3.20M247.49 121.30v3.20M221.50 100.45h-3.20M248.70 121.30v6.00M221.50 99.45h-6.00M256.68 121.30v3.20M221.50 92.87h-3.20M261.34 121.30v3.20M221.50 89.02h-3.20M264.65 121.30v3.20M221.50 86.29h-3.20M267.22 121.30v3.20M221.50 84.18h-3.20M269.32 121.30v3.20M221.50 82.45h-3.20M271.10 121.30v3.20M221.50 80.98h-3.20M272.63 121.30v3.20M221.50 79.72h-3.20M273.99 121.30v3.20M221.50 78.60h-3.20M275.20 121.30v6.00M221.50 77.60h-6.00M283.18 121.30v3.20M221.50 71.02h-3.20M287.84 121.30v3.20M221.50 67.17h-3.20M291.15 121.30v3.20M221.50 64.44h-3.20M293.72 121.30v3.20M221.50 62.33h-3.20M295.82 121.30v3.20M221.50 60.60h-3.20M297.60 121.30v3.20M221.50 59.13h-3.20M299.13 121.30v3.20M221.50 57.87h-3.20M300.49 121.30v3.20M221.50 56.75h-3.20M301.70 121.30v6.00M221.50 55.75h-6.00M309.68 121.30v3.20M221.50 49.17h-3.20M314.34 121.30v3.20M221.50 45.32h-3.20M317.65 121.30v3.20M221.50 42.59h-3.20M320.22 121.30v3.20M221.50 40.48h-3.20M322.32 121.30v3.20M221.50 38.75h-3.20M324.10 121.30v3.20M221.50 37.28h-3.20M325.63 121.30v3.20M221.50 36.02h-3.20M326.99 121.30v3.20M221.50 34.90h-3.20M328.20 121.30v6M221.50 33.90h-6"/>
<text transform="translate(215.17,138.40) scale(0.7,1)" font-size="11.8">10</text>
<text transform="translate(225.00,132.40) scale(0.7,1)" font-size="11.8">0</text>
<text transform="translate(241.47,138.40) scale(0.7,1)" font-size="11.8">10</text>
<text transform="translate(251.30,132.40) scale(0.7,1)" font-size="11.8">1</text>
<text transform="translate(267.77,138.40) scale(0.7,1)" font-size="11.8">10</text>
<text transform="translate(277.60,132.40) scale(0.7,1)" font-size="11.8">2</text>
<text transform="translate(294.07,138.40) scale(0.7,1)" font-size="11.8">10</text>
<text transform="translate(303.90,132.40) scale(0.7,1)" font-size="11.8">3</text>
<text transform="translate(320.37,138.40) scale(0.7,1)" font-size="11.8">10</text>
<text transform="translate(330.20,132.40) scale(0.7,1)" font-size="11.8">4</text>
<text transform="translate(213.60,127.95) rotate(-90) scale(0.7,1)" font-size="11.8">10</text>
<text transform="translate(208.80,116.25) rotate(-90) scale(0.7,1)" font-size="11.8">0</text>
<text transform="translate(213.60,106.15) rotate(-90) scale(0.7,1)" font-size="11.8">10</text>
<text transform="translate(208.80,94.45) rotate(-90) scale(0.7,1)" font-size="11.8">1</text>
<text transform="translate(213.60,84.35) rotate(-90) scale(0.7,1)" font-size="11.8">10</text>
<text transform="translate(208.80,72.65) rotate(-90) scale(0.7,1)" font-size="11.8">2</text>
<text transform="translate(213.60,62.55) rotate(-90) scale(0.7,1)" font-size="11.8">10</text>
<text transform="translate(208.80,50.85) rotate(-90) scale(0.7,1)" font-size="11.8">3</text>
<text transform="translate(213.60,40.75) rotate(-90) scale(0.7,1)" font-size="11.8">10</text>
<text transform="translate(208.80,29.05) rotate(-90) scale(0.7,1)" font-size="11.8">4</text>
<text x="227.00" y="49.50" font-size="16.5" font-weight="bold">6.9</text>
<text x="328.40" y="49.80" font-size="16.5" font-weight="bold" text-anchor="end">15.9</text>
<g fill="none" stroke="#000" stroke-width="1.60">
<rect x="361.70" y="32.10" width="106.10" height="88.80"/>
<path d="M361.70 90.20V90.20H405.70"/>
<path d="M405.70 32.10V90.20"/>
<path d="M413.90 32.10V70.00H467.80"/>
</g>
<path fill="none" stroke="#000" stroke-width="1.3" d="M361.90 120.90v6.00M361.70 120.90h-6.00M369.77 120.90v3.20M361.70 114.22h-3.20M374.38 120.90v3.20M361.70 110.31h-3.20M377.64 120.90v3.20M361.70 107.53h-3.20M380.18 120.90v3.20M361.70 105.38h-3.20M382.25 120.90v3.20M361.70 103.63h-3.20M384.00 120.90v3.20M361.70 102.14h-3.20M385.52 120.90v3.20M361.70 100.85h-3.20M386.85 120.90v3.20M361.70 99.72h-3.20M388.05 120.90v6.00M361.70 98.70h-6.00M395.92 120.90v3.20M361.70 92.02h-3.20M400.53 120.90v3.20M361.70 88.11h-3.20M403.79 120.90v3.20M361.70 85.33h-3.20M406.33 120.90v3.20M361.70 83.18h-3.20M408.40 120.90v3.20M361.70 81.43h-3.20M410.15 120.90v3.20M361.70 79.94h-3.20M411.67 120.90v3.20M361.70 78.65h-3.20M413.00 120.90v3.20M361.70 77.52h-3.20M414.20 120.90v6.00M361.70 76.50h-6.00M422.07 120.90v3.20M361.70 69.82h-3.20M426.68 120.90v3.20M361.70 65.91h-3.20M429.94 120.90v3.20M361.70 63.13h-3.20M432.48 120.90v3.20M361.70 60.98h-3.20M434.55 120.90v3.20M361.70 59.23h-3.20M436.30 120.90v3.20M361.70 57.74h-3.20M437.82 120.90v3.20M361.70 56.45h-3.20M439.15 120.90v3.20M361.70 55.32h-3.20M440.35 120.90v6.00M361.70 54.30h-6.00M448.22 120.90v3.20M361.70 47.62h-3.20M452.83 120.90v3.20M361.70 43.71h-3.20M456.09 120.90v3.20M361.70 40.93h-3.20M458.63 120.90v3.20M361.70 38.78h-3.20M460.70 120.90v3.20M361.70 37.03h-3.20M462.45 120.90v3.20M361.70 35.54h-3.20M463.97 120.90v3.20M361.70 34.25h-3.20M465.30 120.90v3.20M361.70 33.12h-3.20M466.50 120.90v6M361.70 32.10h-6"/>
<text transform="translate(354.67,139.40) scale(0.7,1)" font-size="11.8">10</text>
<text transform="translate(364.50,133.40) scale(0.7,1)" font-size="11.8">0</text>
<text transform="translate(380.72,139.40) scale(0.7,1)" font-size="11.8">10</text>
<text transform="translate(390.55,133.40) scale(0.7,1)" font-size="11.8">1</text>
<text transform="translate(406.77,139.40) scale(0.7,1)" font-size="11.8">10</text>
<text transform="translate(416.60,133.40) scale(0.7,1)" font-size="11.8">2</text>
<text transform="translate(432.82,139.40) scale(0.7,1)" font-size="11.8">10</text>
<text transform="translate(442.65,133.40) scale(0.7,1)" font-size="11.8">3</text>
<text transform="translate(458.87,139.40) scale(0.7,1)" font-size="11.8">10</text>
<text transform="translate(468.70,133.40) scale(0.7,1)" font-size="11.8">4</text>
<text transform="translate(353.00,127.95) rotate(-90) scale(0.7,1)" font-size="11.8">10</text>
<text transform="translate(348.20,116.25) rotate(-90) scale(0.7,1)" font-size="11.8">0</text>
<text transform="translate(353.00,106.15) rotate(-90) scale(0.7,1)" font-size="11.8">10</text>
<text transform="translate(348.20,94.45) rotate(-90) scale(0.7,1)" font-size="11.8">1</text>
<text transform="translate(353.00,84.35) rotate(-90) scale(0.7,1)" font-size="11.8">10</text>
<text transform="translate(348.20,72.65) rotate(-90) scale(0.7,1)" font-size="11.8">2</text>
<text transform="translate(353.00,62.55) rotate(-90) scale(0.7,1)" font-size="11.8">10</text>
<text transform="translate(348.20,50.85) rotate(-90) scale(0.7,1)" font-size="11.8">3</text>
<text transform="translate(353.00,40.75) rotate(-90) scale(0.7,1)" font-size="11.8">10</text>
<text transform="translate(348.20,29.05) rotate(-90) scale(0.7,1)" font-size="11.8">4</text>
<text x="368.40" y="48.10" font-size="16.5" font-weight="bold">5.1</text>
<text x="464.40" y="48.90" font-size="16.5" font-weight="bold" text-anchor="end">7.3</text>
<text x="0.5" y="19" font-size="25.5" font-weight="bold">A</text>
<text x="108.5" y="19.6" font-size="26" font-weight="bold">PRE</text>
<text x="242.7" y="19.6" font-size="26" font-weight="bold" letter-spacing="1.2">REB</text>
<text x="371" y="19.6" font-size="26" font-weight="bold">POST</text>
<path d="M40 37L46.5 24L53 37Z" fill="#000"/>
<path d="M46.5 36v4M48 134v18" stroke="#000" stroke-width="1.6"/>
<text transform="translate(55.7,121.2) rotate(-90)" font-size="27" font-weight="bold">CD25</text>
<path d="M94.3 160.1H235.5M314.5 160.1H456" stroke="#000" stroke-width="1.7"/>
<path d="M454.8 153.5L468.2 160.2L454.8 167Z" fill="#000"/>
<text x="247.5" y="169.8" font-size="26" font-weight="bold" letter-spacing="1">CD4</text>
<text x="-0.5" y="212" font-size="25.5" font-weight="bold">B</text>
<text x="272.5" y="212" font-size="25.5" font-weight="bold">C</text>
<path fill="none" stroke="#000" stroke-width="2" d="M70.90 228.50V334.80M64.90 334.80H249.70"/><path fill="none" stroke="#000" stroke-width="2" d="M70.90 228.90h-6.00M70.90 264.40h-6.00M70.90 299.80h-6.00"/><text x="59.90" y="233.80" font-size="14.5" font-weight="bold" text-anchor="end">60</text><text x="59.90" y="269.30" font-size="14.5" font-weight="bold" text-anchor="end">40</text><text x="59.90" y="304.70" font-size="14.5" font-weight="bold" text-anchor="end">20</text><text x="59.90" y="339.70" font-size="14.5" font-weight="bold" text-anchor="end">0</text>
<path fill="none" stroke="#000" stroke-width="2" d="M342.60 230.00V333.30M336.60 333.30H519.80"/><path fill="none" stroke="#000" stroke-width="2" d="M342.60 230.40h-6.00M342.60 256.40h-6.00M342.60 281.90h-6.00M342.60 307.90h-6.00"/><text x="331.60" y="235.30" font-size="14.5" font-weight="bold" text-anchor="end">20</text><text x="331.60" y="261.30" font-size="14.5" font-weight="bold" text-anchor="end">15</text><text x="331.60" y="286.80" font-size="14.5" font-weight="bold" text-anchor="end">10</text><text x="331.60" y="312.80" font-size="14.5" font-weight="bold" text-anchor="end">5</text><text x="331.60" y="338.20" font-size="14.5" font-weight="bold" text-anchor="end">0</text>
<text x="92.00" y="356.3" font-size="18" font-weight="bold">PRE</text>
<text x="137.50" y="356.3" font-size="18" font-weight="bold">REB</text>
<text x="183.30" y="356.3" font-size="18" font-weight="bold">POST</text>
<text x="364.50" y="356.3" font-size="18" font-weight="bold">PRE</text>
<text x="409.70" y="356.3" font-size="18" font-weight="bold">REB</text>
<text x="456.50" y="356.3" font-size="18" font-weight="bold">POST</text>
<text y="236.70" font-size="15.2" font-weight="bold"><tspan x="107.33" font-style="italic">P</tspan><tspan x="119.47 130.67 135.60 145.10 154.17">=.002</tspan></text>
<path fill="none" stroke="#000" stroke-width="1.8" d="M109.7 254V243.2H160V254"/>
<text y="235.80" font-size="15.2" font-weight="bold"><tspan x="378.93" font-style="italic">P</tspan><tspan x="391.07 402.27 407.20 416.70 425.77">=.002</tspan></text>
<path fill="none" stroke="#000" stroke-width="1.8" d="M382 252V240.6H431.5V252"/>
<text transform="translate(13.2,342.6) rotate(-90)" font-size="16.5" font-weight="bold" letter-spacing="0.8">% CD4+CD25<tspan font-size="10" dy="-5.6" letter-spacing="0">hi</tspan></text>
<text transform="translate(34.7,318.6) rotate(-90)" font-size="16.5" font-weight="bold" letter-spacing="0.6">per CD4+</text>
<text transform="translate(289.2,342.6) rotate(-90)" font-size="16.5" font-weight="bold" letter-spacing="0.8">% CD8+CD25+</text>
<text transform="translate(310.5,318.6) rotate(-90)" font-size="16.5" font-weight="bold" letter-spacing="0.6">per CD8+</text>
<path stroke="#000" stroke-width="1.30" d="M110.80 322.60l10.00 10.00M110.80 332.60l10.00 -10.00"/><circle cx="115.80" cy="327.60" r="4.70" fill="#000"/><path fill="none" stroke="#000" stroke-width="1.30" d="M115.80 323.80L119.80 331.00H111.80Z"/><path stroke="#000" stroke-width="1.30" d="M154.20 260.70h11.60M160.00 254.90v11.60"/><path fill="#fff" stroke="#000" stroke-width="1.30" d="M159.70 275.80L163.70 283.00H155.70Z"/><rect x="155.70" y="286.50" width="7.00" height="7.00" fill="#fff" stroke="#000" stroke-width="1.30"/><path fill="#000" d="M159.90 288.30l4.30 4.30l-4.30 4.30l-4.30 -4.30z"/><path stroke="#000" stroke-width="1.30" d="M154.60 297.30l10.40 10.40M154.60 307.70l10.40 -10.40"/><path stroke="#000" stroke-width="1.30" d="M154.60 302.30l10.40 10.40M154.60 312.70l10.40 -10.40"/><circle cx="159.90" cy="304.00" r="4.30" fill="#000"/><path stroke="#000" stroke-width="1.30" d="M154.90 298.00l10.00 10.00M154.90 308.00l10.00 -10.00"/><path stroke="#000" stroke-width="1.30" d="M159.90 298.00v10.00"/><path stroke="#000" stroke-width="1.30" d="M200.10 298.50h10.40M205.30 293.30v10.40"/><path stroke="#000" stroke-width="1.30" d="M200.00 308.20l10.00 10.00M200.00 318.20l10.00 -10.00"/><path stroke="#000" stroke-width="1.3" d="M205 308.5v8"/><path stroke="#000" stroke-width="1.30" d="M200.60 317.60l8.80 8.80M200.60 326.40l8.80 -8.80"/><circle cx="204.90" cy="321.60" r="3.90" fill="#000"/><path fill="none" stroke="#000" stroke-width="1.30" d="M205.00 317.70L209.60 325.98H200.40Z"/><path fill="#000" d="M387.70 286.90l4.20 4.20l-4.20 4.20l-4.20 -4.20z"/><circle cx="387.40" cy="307.40" r="4.00" fill="none" stroke="#000" stroke-width="1.30"/><path stroke="#000" stroke-width="1.30" d="M382.50 303.50l10.00 10.00M382.50 313.50l10.00 -10.00"/><path stroke="#000" stroke-width="1.30" d="M382.40 317.20h10.20M387.50 312.10v10.20"/><circle cx="387.30" cy="321.50" r="3.90" fill="#000"/><path stroke="#000" stroke-width="1.30" d="M382.60 320.50l10.00 10.00M382.60 330.50l10.00 -10.00"/><path fill="none" stroke="#000" stroke-width="1.30" d="M387.60 323.20L391.60 330.40H383.60Z"/><rect x="384.80" y="328.70" width="5.60" height="5.60" fill="none" stroke="#000" stroke-width="1.30"/><path fill="#000" d="M431.00 253.70l4.60 4.60l-4.60 4.60l-4.60 -4.60z"/><circle cx="431.00" cy="282.40" r="4.80" fill="none" stroke="#000" stroke-width="1.30"/><path stroke="#000" stroke-width="1.30" d="M426.20 282.40h9.60M431.00 277.60v9.60"/><path stroke="#000" stroke-width="1.30" d="M425.50 292.80l10.60 10.60M425.50 303.40l10.60 -10.60"/><circle cx="430.80" cy="298.10" r="4.00" fill="#000"/><circle cx="431.00" cy="313.50" r="4.00" fill="none" stroke="#000" stroke-width="1.30"/><path fill="#fff" stroke="#000" stroke-width="1.30" d="M430.90 308.30L434.90 315.50H426.90Z"/><path stroke="#000" stroke-width="1.30" d="M425.80 317.20l10.40 10.40M425.80 327.60l10.40 -10.40"/><path stroke="#000" stroke-width="1.30" d="M425.60 317.40h10.80M431.00 312.00v10.80"/><path stroke="#000" stroke-width="1.30" d="M470.00 265.00h11.00M475.50 259.50v11.00"/><path fill="#000" d="M475.50 283.30l4.60 4.60l-4.60 4.60l-4.60 -4.60z"/><path stroke="#000" stroke-width="1.30" d="M470.30 301.50l10.80 10.80M470.30 312.30l10.80 -10.80"/><path stroke="#000" stroke-width="1.30" d="M470.40 322.70l10.40 10.40M470.40 333.10l10.40 -10.40"/><path stroke="#000" stroke-width="1.30" d="M475.60 322.70v10.40"/><path fill="#fff" stroke="#000" stroke-width="1.30" d="M475.60 325.20L479.60 332.40H471.60Z"/><path stroke="#000" stroke-width="1.3" d="M475.6 322.7v10"/><circle cx="475.60" cy="327.60" r="2.00" fill="#000"/>
</svg>
</body></html>
